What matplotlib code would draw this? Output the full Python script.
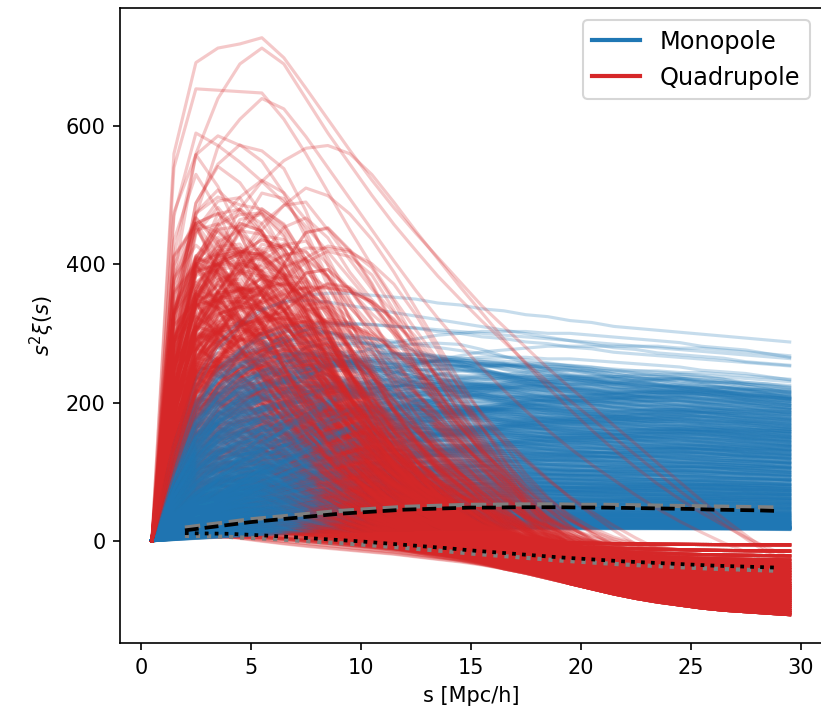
import matplotlib
matplotlib.use("Agg")
import matplotlib.pyplot as plt
import numpy as np
from itertools import zip_longest

# separation bins (Mpc/h)
S_BINS = [0.5, 1.5, 2.5, 3.5, 4.5, 5.5, 6.5, 7.5, 8.5, 9.5,
          10.5, 11.5, 12.5, 13.5, 14.5, 15.5, 16.5, 17.5, 18.5, 19.5,
          20.5, 21.5, 22.5, 23.5, 24.5, 25.5, 26.5, 27.5, 28.5, 29.5]

# monopole profiles, relative to the value at the last bin
MONO_SHAPES = [
    [0.02, 0.55, 0.92, 1.13, 1.25, 1.32, 1.36, 1.37, 1.36, 1.34, 1.32, 1.30, 1.28, 1.26, 1.24,
     1.22, 1.20, 1.18, 1.16, 1.14, 1.12, 1.10, 1.09, 1.07, 1.06, 1.05, 1.04, 1.02, 1.01, 1.00],
    [0.01, 0.35, 0.65, 0.85, 0.98, 1.07, 1.13, 1.17, 1.19, 1.20, 1.20, 1.19, 1.18, 1.17, 1.16,
     1.15, 1.14, 1.13, 1.12, 1.11, 1.10, 1.09, 1.08, 1.07, 1.06, 1.05, 1.04, 1.03, 1.02, 1.01],
    [0.00, 0.15, 0.30, 0.45, 0.58, 0.70, 0.80, 0.88, 0.95, 1.00, 1.04, 1.07, 1.09, 1.11, 1.12,
     1.13, 1.13, 1.13, 1.12, 1.12, 1.11, 1.10, 1.09, 1.08, 1.07, 1.05, 1.04, 1.03, 1.01, 0.99],
    [0.00, 0.10, 0.20, 0.30, 0.40, 0.50, 0.58, 0.66, 0.73, 0.79, 0.84, 0.88, 0.92, 0.95, 0.97,
     0.99, 1.00, 1.01, 1.02, 1.02, 1.02, 1.02, 1.02, 1.02, 1.01, 1.01, 1.00, 0.99, 0.98, 0.97],
    [0.01, 0.45, 0.78, 0.98, 1.10, 1.18, 1.23, 1.26, 1.27, 1.27, 1.26, 1.25, 1.24, 1.22, 1.21,
     1.19, 1.18, 1.16, 1.15, 1.13, 1.12, 1.10, 1.09, 1.08, 1.07, 1.06, 1.05, 1.04, 1.03, 1.02],
]

# end values of the monopole mocks
MONO_AMPS = [17, 18, 19, 20, 22, 24, 26, 28, 31, 34, 37, 40, 44, 48, 52, 56,
             60, 64, 68, 72, 76, 80, 85, 90, 95, 100, 105, 110, 115, 120, 125, 130,
             135, 140, 145, 150, 155, 160, 165, 170, 176, 182, 188, 194, 200, 206, 211, 216]
MONO_TOP_AMPS = [222, 228, 235, 241, 248, 254, 261, 268, 276, 282]

# mock-to-mock wiggles (relative)
WIGGLES = [
    [0, 0.03, 0.05, 0.04, 0.02, -0.01, -0.03, -0.04, -0.03, -0.01, 0.01, 0.03, 0.04, 0.04, 0.03,
     0.01, -0.01, -0.02, -0.03, -0.03, -0.02, -0.01, 0, 0.01, 0.02, 0.02, 0.02, 0.01, 0.01, 0],
    [0, -0.04, -0.02, 0.01, 0.04, 0.05, 0.04, 0.02, -0.01, -0.03, -0.04, -0.03, -0.01, 0.01, 0.02,
     0.03, 0.03, 0.02, 0.01, 0, -0.01, -0.02, -0.02, -0.02, -0.01, -0.01, 0, 0, 0.01, 0.01],
    [0, 0.05, 0.02, -0.02, -0.04, -0.03, 0, 0.03, 0.05, 0.04, 0.02, -0.01, -0.03, -0.04, -0.03,
     -0.02, 0, 0.01, 0.02, 0.03, 0.03, 0.02, 0.01, 0, -0.01, -0.01, -0.02, -0.02, -0.02, -0.02],
    [0, 0, 0.02, 0.03, 0.01, -0.02, -0.04, -0.03, 0, 0.02, 0.03, 0.02, 0, -0.02, -0.03,
     -0.03, -0.02, 0, 0.01, 0.02, 0.02, 0.02, 0.01, 0.01, 0, -0.01, -0.01, 0, 0, 0],
    [0, -0.02, -0.04, -0.03, 0, 0.03, 0.04, 0.03, 0.01, -0.02, -0.03, -0.02, 0.01, 0.03, 0.04,
     0.03, 0.01, -0.01, -0.03, -0.04, -0.03, -0.02, 0, 0.02, 0.03, 0.03, 0.02, 0.01, 0, -0.01],
]

# quadrupole peak profiles (peak = 1)
QUAD_SHAPES = [
    [0.0, 0.85, 1.0, 0.92, 0.80, 0.68, 0.56, 0.45, 0.36, 0.28, 0.21, 0.15, 0.10, 0.06, 0.03, 0.01] + [0.0] * 14,
    [0.0, 0.60, 0.90, 1.0, 0.96, 0.88, 0.78, 0.67, 0.56, 0.46, 0.37, 0.29, 0.22, 0.16, 0.11, 0.07,
     0.04, 0.02, 0.01] + [0.0] * 11,
    [0.0, 0.45, 0.75, 0.88, 0.95, 1.0, 0.97, 0.90, 0.80, 0.69, 0.58, 0.48, 0.39, 0.31, 0.24, 0.18,
     0.13, 0.09, 0.06, 0.03, 0.01] + [0.0] * 9,
    [0.0, 0.30, 0.55, 0.70, 0.80, 0.88, 0.95, 1.0, 0.98, 0.93, 0.86, 0.77, 0.67, 0.57, 0.47, 0.38,
     0.30, 0.22, 0.16, 0.11, 0.07, 0.04, 0.02, 0.01] + [0.0] * 6,
    [0.0, 0.70, 0.95, 1.0, 0.98, 0.97, 0.93, 0.83, 0.70, 0.57, 0.45, 0.35, 0.26, 0.19, 0.13, 0.08,
     0.05, 0.03, 0.01] + [0.0] * 11,
    [0.0, 0.55, 0.85, 0.95, 1.0, 0.96, 0.88, 0.77, 0.65, 0.54, 0.43, 0.34, 0.26, 0.19, 0.13, 0.09,
     0.05, 0.03, 0.01] + [0.0] * 11,
]
QUAD_AMPS = [12, 18, 24, 30, 37, 44, 51, 58, 66, 74, 82, 90, 99, 108, 117, 126,
             135, 145, 155, 165, 175, 185, 195, 205, 215, 225, 235, 245, 255, 265, 275, 285,
             295, 305, 315, 325, 335, 345, 355, 365, 375, 385, 395, 405, 415, 425, 440, 455]
QUAD_TOP_AMPS = [470, 485, 500, 515, 530, 545, 560, 575, 590]

# large-scale negative tail of the quadrupole
TAIL_SHAPE = [0, 0.01, 0.02, 0.04, 0.06, 0.08, 0.10, 0.12, 0.14, 0.16, 0.18, 0.20, 0.23, 0.26, 0.29,
              0.33, 0.38, 0.44, 0.51, 0.58, 0.65, 0.72, 0.78, 0.83, 0.87, 0.91, 0.94, 0.96, 0.98, 1.0]
TAIL_ENDS = [-107, -104, -101, -98, -95, -92, -89, -86, -83, -80, -77, -74, -71, -68,
             -65, -62, -58, -54, -50, -46, -42, -38, -33, -28, -22, -15, -6]

# the few extreme quadrupole mocks
QUAD_OUTLIERS = [
    [0, 560, 692, 713, 719, 728, 699, 655, 610, 565, 522, 482, 445, 410, 375,
     340, 310, 280, 250, 222, 195, 167, 140, 112, 85, 58, 32, 8, -15, -35],
    [0, 380, 560, 640, 690, 713, 690, 640, 590, 545, 500, 458, 420, 383, 350,
     318, 288, 258, 230, 203, 177, 150, 124, 98, 72, 48, 25, 3, -18, -36],
    [0, 540, 654, 652, 650, 648, 610, 560, 505, 450, 398, 350, 305, 262, 222,
     185, 150, 118, 90, 62, 38, 15, -5, -22, -36, -48, -58, -66, -72, -78],
    [0, 470, 590, 572, 548, 520, 490, 455, 418, 380, 342, 305, 270, 236, 203,
     172, 143, 115, 88, 64, 42, 22, 4, -12, -26, -38, -48, -56, -62, -68],
    [0, 300, 470, 570, 610, 640, 625, 585, 540, 495, 450, 405, 362, 322, 285,
     250, 218, 188, 160, 134, 110, 88, 66, 46, 28, 12, -3, -16, -28, -38],
    [0, 200, 330, 420, 480, 520, 550, 568, 572, 560, 530, 490, 448, 408, 368,
     330, 292, 256, 222, 190, 160, 132, 106, 82, 60, 40, 22, 5, -10, -24],
]

# reference curves (black) and model (grey)
MEAN_S = [2, 3, 4, 5, 6, 7, 8, 9, 10, 11, 12, 13, 14, 15, 16, 17, 18, 19, 20,
          21, 22, 23, 24, 25, 26, 27, 28, 29]
MONO_MEAN = [15, 19, 23, 27, 30, 33, 36, 39, 41, 43, 45, 46, 47, 48, 48, 48.5, 48.5, 48.5, 48,
             48, 47.5, 47, 46.5, 46, 45, 44.5, 44, 43]
MONO_MODEL = [19, 23, 27, 31, 34, 37, 40, 43, 45, 47, 49, 50, 51, 52, 52, 52.5, 52.5, 52.5, 52,
              52, 51.5, 51, 50.5, 50, 49.5, 49, 48.5, 48]
QUAD_MEAN = [11, 10.5, 10, 8.5, 7, 5, 3, 1, -1, -3.5, -6, -8.5, -11, -14, -16.5, -19, -21.5, -24, -26,
             -28, -30, -31.5, -33, -34.5, -36, -37, -38, -39]
QUAD_MODEL = [7, 6.5, 5.5, 4, 2.5, 0.5, -1.5, -3.5, -5.5, -8, -10.5, -13, -15.5, -18.5, -21, -23.5,
              -26, -28.5, -30.5, -32.5, -34.5, -36, -37.5, -39, -40.5, -41.5, -42.5, -43.5]

BLUE = "#1f77b4"
RED = "#d62728"


def main() -> None:
    s = np.array(S_BINS)
    nw = len(WIGGLES)

    mono = []
    for j, amp in enumerate(MONO_AMPS):
        for k, shape in enumerate(MONO_SHAPES):
            for v in (0, 2):
                w = np.array(WIGGLES[(j + k + v) % nw])
                mono.append(amp * (1 + 0.02 * (v - 1)) * np.array(shape) * (1 + w))
    for j, amp in enumerate(MONO_TOP_AMPS):
        shape = MONO_SHAPES[j % len(MONO_SHAPES)]
        mono.append(amp * np.array(shape))

    quad = []
    n = 0
    for j, amp in enumerate(QUAD_AMPS):
        for k, shape in enumerate(QUAD_SHAPES):
            for v in (0, 3):
                w = np.array(WIGGLES[(j + 2 * k + v) % nw])
                tail = TAIL_ENDS[n % len(TAIL_ENDS)] * np.array(TAIL_SHAPE)
                quad.append(amp * (1 + 0.03 * (v - 1)) * np.array(shape) * (1 + 2 * w) + tail)
                n += 1
    for j, amp in enumerate(QUAD_TOP_AMPS):
        shape = QUAD_SHAPES[(j * 5) % len(QUAD_SHAPES)]
        tail = TAIL_ENDS[(j * 7) % len(TAIL_ENDS)] * np.array(TAIL_SHAPE)
        quad.append(amp * np.array(shape) + tail)
    quad += [np.array(c, dtype=float) for c in QUAD_OUTLIERS]

    fig = plt.figure(figsize=(821 / 150, 721 / 150), dpi=150)
    ax = fig.add_axes([0.1462, 0.1082, 0.8545, 0.8807])

    for m, q in zip_longest(mono, quad):
        if m is not None:
            ax.plot(s, m, color=BLUE, alpha=0.25, lw=1.5)
        if q is not None:
            ax.plot(s, q, color=RED, alpha=0.25, lw=1.5)

    ax.plot(MEAN_S, MONO_MODEL, color="grey", ls="--", lw=2)
    ax.plot(MEAN_S, MONO_MEAN, color="black", ls="--", lw=1.8)
    ax.plot(MEAN_S, QUAD_MODEL, color="grey", ls=":", lw=2)
    ax.plot(MEAN_S, QUAD_MEAN, color="black", ls=":", lw=1.8)

    ax.plot([], [], color=BLUE, lw=2, label="Monopole")
    ax.plot([], [], color=RED, lw=2, label="Quadrupole")
    ax.legend(loc="upper right", fontsize=11.5)

    ax.set_xlim(-0.95, 30.95)
    ax.set_ylim(-148, 771)
    ax.set_xticks([0, 5, 10, 15, 20, 25, 30])
    ax.set_yticks([0, 200, 400, 600])
    ax.set_xlabel("s [Mpc/h]")
    ax.set_ylabel(r"$s^2\xi(s)$")

    fig.savefig("out.png", dpi=150)
    plt.close(fig)


if __name__ == "__main__":
    main()
